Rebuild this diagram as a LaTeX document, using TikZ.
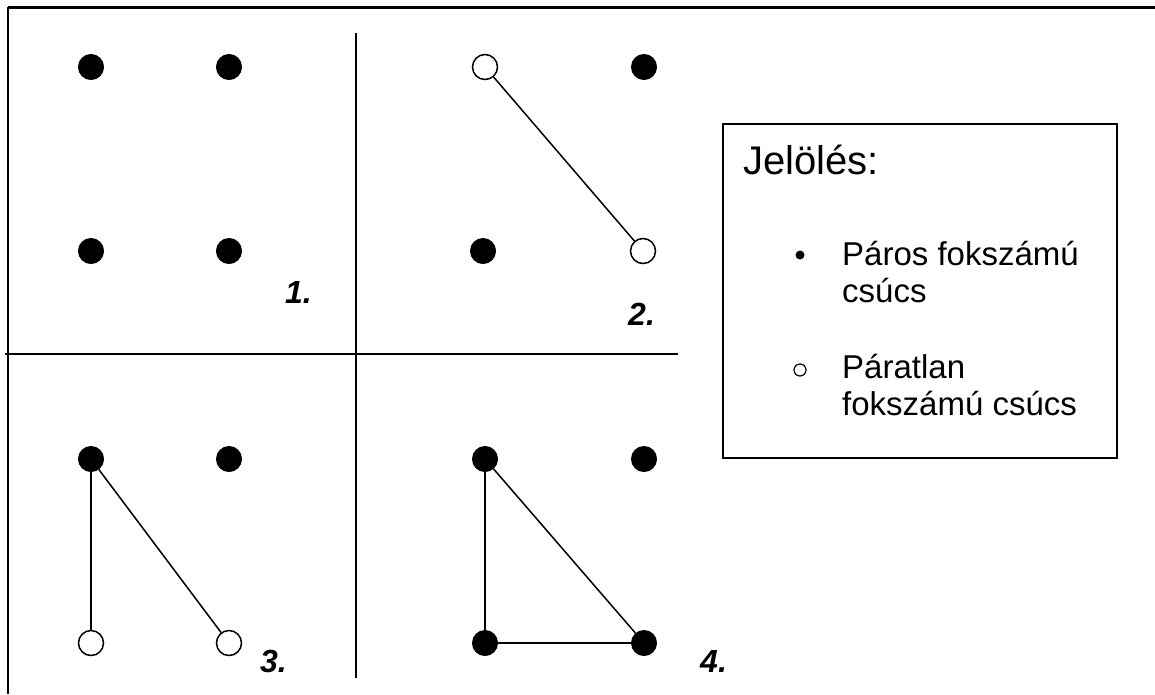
\documentclass[tikz,border=0pt]{standalone}
\usepackage{fontspec}
\setmainfont{Liberation Sans}
\begin{document}
\begin{tikzpicture}[x=1pt,y=-1pt,
  even/.style={circle,fill=black,draw=black,line width=1pt,minimum size=25pt,inner sep=0pt},
  odd/.style={circle,fill=white,draw=black,line width=1.5pt,minimum size=25pt,inner sep=0pt},
  edge/.style={line width=1.5pt},
  num/.style={font=\fontsize{32}{32}\selectfont\bfseries\itshape,anchor=base west,inner sep=0pt},
  legend/.style={font=\fontsize{33}{33}\selectfont,anchor=base west,inner sep=0pt}]
\useasboundingbox (0,0) rectangle (1155,694);
% frame (top and left edges) and quadrant dividers
\draw[line width=3pt] (8,7) -- (1155,7);
\draw[line width=2.5pt] (8,7) -- (8,694);
\draw[line width=2pt] (356,33) -- (356,678);
\draw[line width=2.5pt] (5,354) -- (608,354);
\draw[line width=1.2pt] (608,354) -- (678,354);
% quadrant 1
\node[even] (a1) at (91,67) {};
\node[even] (b1) at (229,67) {};
\node[even] (c1) at (91,251) {};
\node[even] (d1) at (229,251) {};
\node[num] (n1) at (285,303) {1.};
% quadrant 2
\node[odd]  (a2) at (485,67) {};
\node[even] (b2) at (644,67) {};
\node[even] (c2) at (483,251) {};
\node[odd]  (d2) at (643,251) {};
\draw[edge] (a2) -- (d2);
\node[num] (n2) at (628,325) {2.};
% quadrant 3
\node[even] (a3) at (91,459) {};
\node[even] (b3) at (229,459) {};
\node[odd]  (c3) at (91,643) {};
\node[odd]  (d3) at (229,643) {};
\draw[edge] (a3) -- (c3);
\draw[edge] (a3) -- (d3);
\node[num] (n3) at (260,672) {3.};
% quadrant 4
\node[even] (a4) at (485,459) {};
\node[even] (b4) at (644,459) {};
\node[even] (c4) at (485,643) {};
\node[even] (d4) at (644,643) {};
\draw[edge] (a4) -- (c4);
\draw[edge] (a4) -- (d4);
\draw[edge] (c4) -- (d4);
\node[num] (n4) at (700,672) {4.};
% legend
\draw[line width=1.5pt] (723,124) rectangle (1117,458);
\node[legend,font=\fontsize{40}{40}\selectfont] (lt) at (743,174) {Jelölés:};
\fill (800,255) circle (4.5pt);
\node[legend] (l1) at (842,265) {Páros fokszámú};
\node[legend] (l2) at (842,302) {csúcs};
\draw[line width=1.2pt] (800,370) circle (6pt);
\node[legend] (l3) at (842,378) {Páratlan};
\node[legend] (l4) at (842,415) {fokszámú csúcs};
\end{tikzpicture}
\end{document}
